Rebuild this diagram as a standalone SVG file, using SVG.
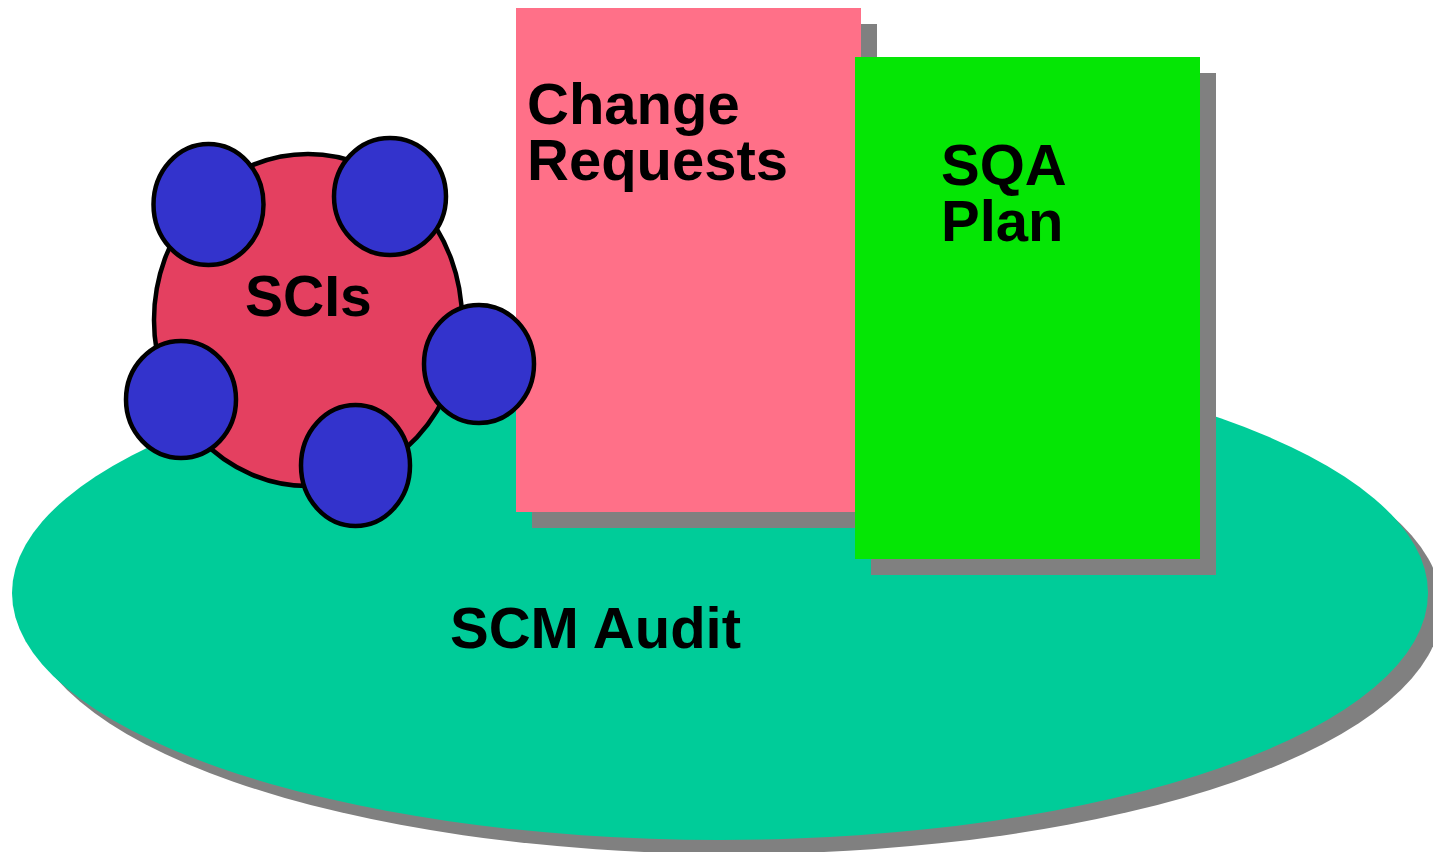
<svg xmlns="http://www.w3.org/2000/svg" width="1433" height="852" viewBox="0 0 1433 852">
  <style>
    .label { font-family: "Liberation Sans", Arial, sans-serif; font-weight: bold; font-size: 58px; fill: #000000; }
    .shadow { fill: #808080; }
    .item { fill: #3333CC; stroke: #000000; stroke-width: 4.5; }
  </style>
  <rect width="1433" height="852" fill="#FFFFFF"/>

  <!-- SCM Audit base -->
  <g id="scm-audit">
    <ellipse class="shadow" cx="734" cy="607" rx="708" ry="247"/>
    <ellipse cx="720" cy="593" rx="708" ry="247" fill="#00CC99"/>
    <text class="label" x="450" y="648">SCM Audit</text>
  </g>

  <!-- Change Requests sheet -->
  <g id="change-requests">
    <rect class="shadow" x="532" y="24" width="345" height="504"/>
    <rect x="516" y="8" width="345" height="504" fill="#FF7088"/>
    <text class="label" x="527" y="124">Change</text>
    <text class="label" x="527" y="180">Requests</text>
  </g>

  <!-- SQA Plan sheet -->
  <g id="sqa-plan">
    <rect class="shadow" x="871" y="73" width="345" height="502"/>
    <rect x="855" y="57" width="345" height="502" fill="#05E605"/>
    <text class="label" x="941" y="185">SQA</text>
    <text class="label" x="941" y="241">Plan</text>
  </g>

  <!-- SCIs cluster -->
  <g id="scis">
    <ellipse cx="308" cy="320" rx="154" ry="166" fill="#E44060" stroke="#000000" stroke-width="4.5"/>
    <text class="label" x="245" y="316" style="font-size:57px">SCIs</text>
    <ellipse class="item" cx="208.5" cy="204.5" rx="55" ry="60.5"/>
    <ellipse class="item" cx="390" cy="196.5" rx="56" ry="58.5"/>
    <ellipse class="item" cx="479" cy="364" rx="55" ry="59"/>
    <ellipse class="item" cx="181" cy="399.5" rx="55" ry="58.5"/>
    <ellipse class="item" cx="355.5" cy="465.5" rx="54.5" ry="60.5"/>
  </g>

  <g id="connectors"/>
</svg>
